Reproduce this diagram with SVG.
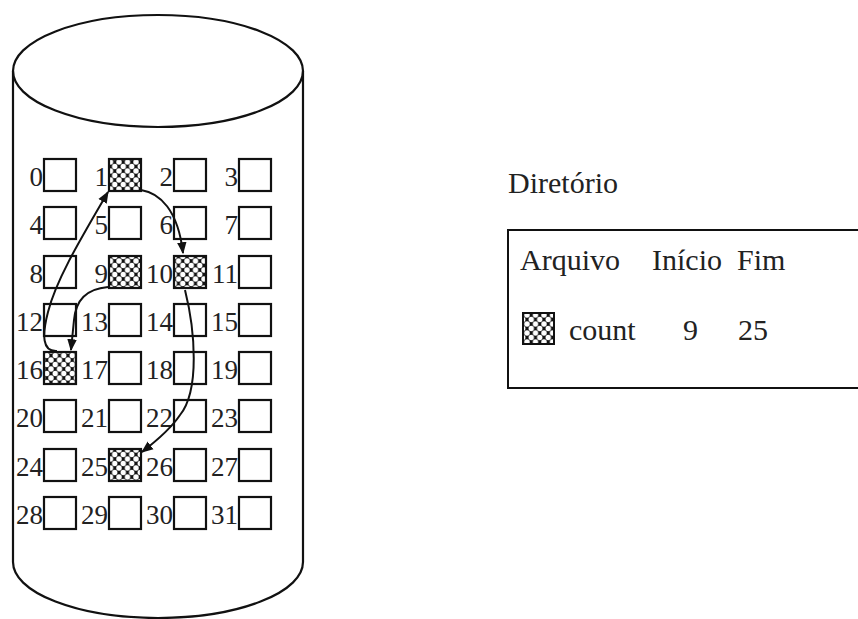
<svg xmlns="http://www.w3.org/2000/svg" width="858" height="619" viewBox="0 0 858 619">
<defs>
<pattern id="hatch" patternUnits="userSpaceOnUse" width="8.5" height="9">
<rect width="8.5" height="9" fill="#111"/>
<circle cx="0" cy="0" r="2.7" fill="#fff"/>
<circle cx="8.5" cy="0" r="2.7" fill="#fff"/>
<circle cx="0" cy="9" r="2.7" fill="#fff"/>
<circle cx="8.5" cy="9" r="2.7" fill="#fff"/>
<circle cx="4.25" cy="4.5" r="2.7" fill="#fff"/>
</pattern>
<marker id="ah" viewBox="0 0 10 10" refX="9" refY="5" markerWidth="12" markerHeight="12" markerUnits="userSpaceOnUse" orient="auto">
<path d="M0,1 L10,5 L0,9 Z" fill="#111"/>
</marker>
</defs>
<style>
.blk{fill:#fff;stroke:#111;stroke-width:2.2}
.used{fill:url(#hatch);stroke:#111;stroke-width:2.2}
.num{font-family:"Liberation Serif","Times New Roman",serif;font-size:27px;fill:#222;text-anchor:end}
.txt{font-family:"Liberation Serif","Times New Roman",serif;font-size:30px;fill:#222}
.arr{fill:none;stroke:#111;stroke-width:2;marker-end:url(#ah)}
</style>
<rect width="858" height="619" fill="#fff"/>
<g id="disk">
<path d="M13,71 L13,562 A145,56 0 0 0 303,562 L303,71" fill="none" stroke="#111" stroke-width="2.2"/>
<ellipse cx="158" cy="71" rx="145" ry="56" fill="none" stroke="#111" stroke-width="2.2"/>
</g>
<g id="blocks">
<g id="b0"><rect class="blk" x="44" y="159" width="32" height="32"/><text class="num" x="43" y="186">0</text></g>
<g id="b1"><rect class="used" x="109" y="159" width="32" height="32"/><text class="num" x="108" y="186">1</text></g>
<g id="b2"><rect class="blk" x="174" y="159" width="32" height="32"/><text class="num" x="173" y="186">2</text></g>
<g id="b3"><rect class="blk" x="239" y="159" width="32" height="32"/><text class="num" x="238" y="186">3</text></g>
<g id="b4"><rect class="blk" x="44" y="207" width="32" height="32"/><text class="num" x="43" y="234">4</text></g>
<g id="b5"><rect class="blk" x="109" y="207" width="32" height="32"/><text class="num" x="108" y="234">5</text></g>
<g id="b6"><rect class="blk" x="174" y="207" width="32" height="32"/><text class="num" x="173" y="234">6</text></g>
<g id="b7"><rect class="blk" x="239" y="207" width="32" height="32"/><text class="num" x="238" y="234">7</text></g>
<g id="b8"><rect class="blk" x="44" y="256" width="32" height="32"/><text class="num" x="43" y="283">8</text></g>
<g id="b9"><rect class="used" x="109" y="256" width="32" height="32"/><text class="num" x="108" y="283">9</text></g>
<g id="b10"><rect class="used" x="174" y="256" width="32" height="32"/><text class="num" x="173" y="283">10</text></g>
<g id="b11"><rect class="blk" x="239" y="256" width="32" height="32"/><text class="num" x="238" y="283">11</text></g>
<g id="b12"><rect class="blk" x="44" y="304" width="32" height="32"/><text class="num" x="43" y="331">12</text></g>
<g id="b13"><rect class="blk" x="109" y="304" width="32" height="32"/><text class="num" x="108" y="331">13</text></g>
<g id="b14"><rect class="blk" x="174" y="304" width="32" height="32"/><text class="num" x="173" y="331">14</text></g>
<g id="b15"><rect class="blk" x="239" y="304" width="32" height="32"/><text class="num" x="238" y="331">15</text></g>
<g id="b16"><rect class="used" x="44" y="352" width="32" height="32"/><text class="num" x="43" y="379">16</text></g>
<g id="b17"><rect class="blk" x="109" y="352" width="32" height="32"/><text class="num" x="108" y="379">17</text></g>
<g id="b18"><rect class="blk" x="174" y="352" width="32" height="32"/><text class="num" x="173" y="379">18</text></g>
<g id="b19"><rect class="blk" x="239" y="352" width="32" height="32"/><text class="num" x="238" y="379">19</text></g>
<g id="b20"><rect class="blk" x="44" y="400" width="32" height="32"/><text class="num" x="43" y="427">20</text></g>
<g id="b21"><rect class="blk" x="109" y="400" width="32" height="32"/><text class="num" x="108" y="427">21</text></g>
<g id="b22"><rect class="blk" x="174" y="400" width="32" height="32"/><text class="num" x="173" y="427">22</text></g>
<g id="b23"><rect class="blk" x="239" y="400" width="32" height="32"/><text class="num" x="238" y="427">23</text></g>
<g id="b24"><rect class="blk" x="44" y="449" width="32" height="32"/><text class="num" x="43" y="476">24</text></g>
<g id="b25"><rect class="used" x="109" y="449" width="32" height="32"/><text class="num" x="108" y="476">25</text></g>
<g id="b26"><rect class="blk" x="174" y="449" width="32" height="32"/><text class="num" x="173" y="476">26</text></g>
<g id="b27"><rect class="blk" x="239" y="449" width="32" height="32"/><text class="num" x="238" y="476">27</text></g>
<g id="b28"><rect class="blk" x="44" y="497" width="32" height="32"/><text class="num" x="43" y="524">28</text></g>
<g id="b29"><rect class="blk" x="109" y="497" width="32" height="32"/><text class="num" x="108" y="524">29</text></g>
<g id="b30"><rect class="blk" x="174" y="497" width="32" height="32"/><text class="num" x="173" y="524">30</text></g>
<g id="b31"><rect class="blk" x="239" y="497" width="32" height="32"/><text class="num" x="238" y="524">31</text></g>
</g>
<g id="connectors">
<path class="arr" d="M141,190 C160,193 178,210 183,253"/>
<path class="arr" d="M185,290 C195,330 200,390 180,415 C170,430 155,442 142,452"/>
<path class="arr" d="M108,287 C86,289 76,300 74,320 L71,350"/>
<path class="arr" d="M57,351 C42,352 42,335 48,312 C56,280 80,240 108,192"/>
</g>
<g id="directory">
<text class="txt" x="508" y="193">Diretório</text>
<path d="M858,230 L508,230 L508,388 L858,388" fill="none" stroke="#111" stroke-width="2"/>
<text class="txt" x="520" y="270">Arquivo</text>
<text class="txt" x="652" y="270">Início</text>
<text class="txt" x="737" y="270">Fim</text>
<rect x="523" y="313" width="31" height="31" fill="url(#hatch)" stroke="#111" stroke-width="2"/>
<text class="txt" x="569" y="340">count</text>
<text class="txt" x="683" y="340">9</text>
<text class="txt" x="738" y="340">25</text>
</g>
</svg>
